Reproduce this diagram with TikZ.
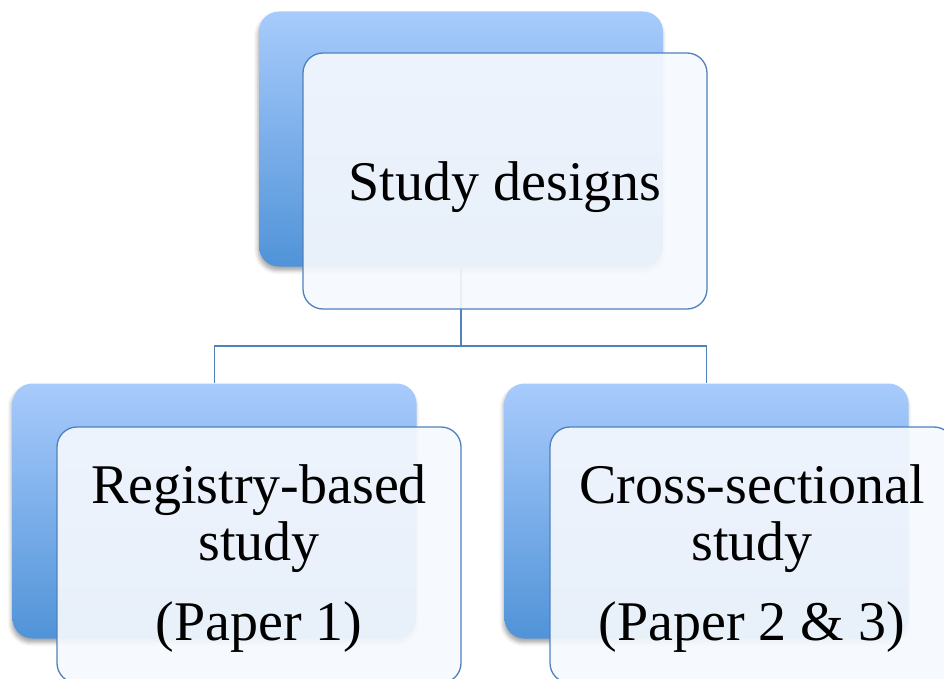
\documentclass[tikz,border=0pt]{standalone}
\usepackage{fontspec}
\setmainfont{Liberation Serif}
\usetikzlibrary{shadows.blur}
\definecolor{accent}{RGB}{79,129,189}
\definecolor{backtop}{RGB}{168,203,252}
\definecolor{backbottom}{RGB}{80,147,216}
\definecolor{frontfill}{RGB}{245,248,253}
\tikzset{
    backbox/.style={rounded corners=20pt, minimum width=404pt, minimum height=255pt,
        top color=backtop, bottom color=backbottom,
        blur shadow={shadow xshift=-1pt, shadow yshift=-4pt, shadow blur radius=4pt, shadow opacity=35}},
    frontbox/.style={draw=accent, line width=1.3pt, rounded corners=20pt,
        minimum width=404pt, minimum height=256pt, fill=frontfill, fill opacity=0.92,
        text opacity=1, align=center, font=\fontsize{56}{57}\selectfont},
    link/.style={draw=accent, line width=1.3pt}
}
\begin{document}
\begin{tikzpicture}[x=1pt, y=-1pt]
        \useasboundingbox (0, 0) rectangle (944, 679);
        \node[backbox] (designsback) at (461, 139) {};
        \node[backbox] (registryback) at (214.5, 511) {};
        \node[backbox] (crossback) at (706.5, 511) {};
        \coordinate (fork) at (461, 346);
        \draw[link] (designsback.south) -- (fork) -| (registryback.north);
        \draw[link] (fork) -| (crossback.north);
        \node[frontbox, text depth=0pt] (designs) at (505, 181) {Study designs};
        \node[frontbox] (registry) at (259, 555) {\rule{0pt}{46pt}Registry-based\\study\\[23pt](Paper 1)};
        \node[frontbox] (cross) at (752, 555) {\rule{0pt}{46pt}Cross-sectional\\study\\[23pt](Paper 2 \& 3)};
    \end{tikzpicture}
\end{document}
